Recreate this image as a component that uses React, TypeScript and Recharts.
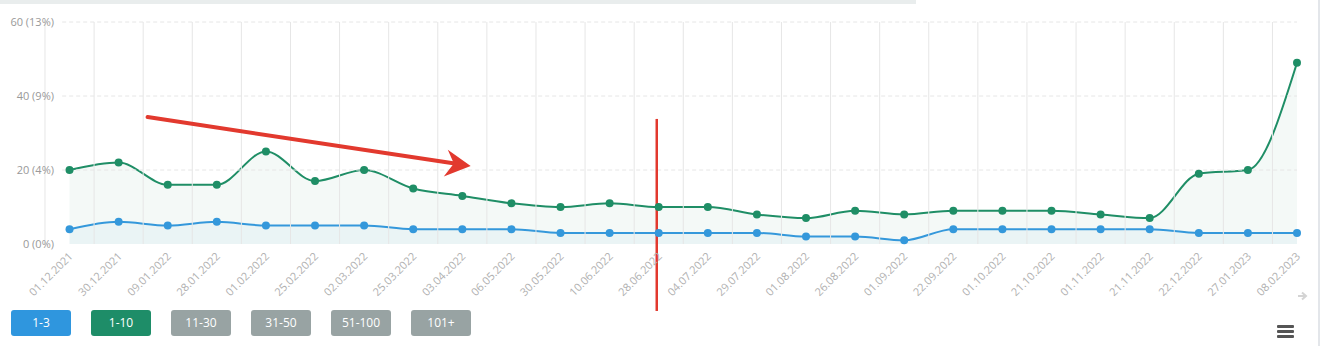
import React from "react";
import { Area, ComposedChart, ReferenceLine, XAxis, YAxis } from "recharts";

const dates = [
  "01.12.2021", "30.12.2021", "09.01.2022", "28.01.2022", "01.02.2022", "25.02.2022",
  "02.03.2022", "25.03.2022", "03.04.2022", "06.05.2022", "30.05.2022", "10.06.2022",
  "28.06.2022", "04.07.2022", "29.07.2022", "01.08.2022", "26.08.2022", "01.09.2022",
  "22.09.2022", "01.10.2022", "21.10.2022", "01.11.2022", "21.11.2022", "22.12.2022",
  "27.01.2023", "08.02.2023",
];
const top3 = [4, 6, 5, 6, 5, 5, 5, 4, 4, 4, 3, 3, 3, 3, 3, 2, 2, 1, 4, 4, 4, 4, 4, 3, 3, 3];
const top10 = [20, 22, 16, 16, 25, 17, 20, 15, 13, 11, 10, 11, 10, 10, 8, 7, 9, 8, 9, 9, 9, 8, 7, 19, 20, 49];
const yTicks = [0, 20, 40, 60];
const yTickLabels = ["0 (0%)", "20 (4%)", "40 (9%)", "60 (13%)"];
const legendItems = ["1-3", "1-10", "11-30", "31-50", "51-100", "101+"];
const legendColors = ["#2f96de", "#1e8d68", "#98a3a3", "#98a3a3", "#98a3a3", "#98a3a3"];

// annotation drawn on top of the screenshot (in data units)
const arrowFrom = { x: 1.59, y: 34.3 };
const arrowTo = { x: 8.17, y: 21.1 };
const markerX = 11.96;
const markerRange = [33.8, -18.1];

const BLUE = "#3498db";
const GREEN = "#1f8e66";
const RED = "#e2392e";

const data = dates.map((d, i) => ({ i, date: d, top3: top3[i], top10: top10[i] }));

const XTick = ({ x, y, payload }: any) => (
  <g transform={`translate(${x + 4},${y + 5})`}>
    <text textAnchor="end" transform="rotate(-45)" fontSize={11} fill="#b0b0b0">
      {dates[payload.value]}
    </text>
  </g>
);

const YTick = ({ x, y, payload }: any) => (
  <text x={x + 10} y={y} dy={4} textAnchor="end" fontSize={11} fill="#999">
    {yTickLabels[yTicks.indexOf(payload.value)]}
  </text>
);

const ArrowShape = (p: any) => {
  const { x1, y1, x2, y2 } = p;
  const len = Math.hypot(x2 - x1, y2 - y1);
  const ux = (x2 - x1) / len;
  const uy = (y2 - y1) / len;
  const nx = -uy;
  const ny = ux;
  const pt = (a: number, b: number) => `${x2 + ux * a + nx * b},${y2 + uy * a + ny * b}`;
  return (
    <g>
      <line x1={x1} y1={y1} x2={x2 - ux * 16} y2={y2 - uy * 16} stroke={RED} strokeWidth={4} strokeLinecap="round" />
      <polygon points={[pt(0, 0), pt(-25, -12.5), pt(-17, 0), pt(-25, 14.5)].join(" ")} fill={RED} />
    </g>
  );
};

export default function App() {
  return (
    <div
      style={{
        position: "absolute",
        left: 0,
        top: 0,
        width: 1323,
        height: 346,
        background: "#fff",
        fontFamily: "'Open Sans', sans-serif",
        overflow: "hidden",
      }}
    >
      <div style={{ position: "absolute", left: 0, top: 0, width: 916, height: 4, background: "#e9eded" }} />
      <div style={{ position: "absolute", left: 1318, top: 0, width: 2, height: 346, background: "#e3e6ea" }} />
      <ComposedChart width={1323} height={346} data={data} margin={{ top: 22, right: 26, left: 0, bottom: 40 }}>
        <XAxis
          dataKey="i"
          type="number"
          domain={[-0.52, 25]}
          ticks={dates.map((_, i) => i)}
          interval={0}
          axisLine={false}
          tickLine={false}
          height={62}
          tick={<XTick />}
        />
        <YAxis
          type="number"
          domain={[0, 60]}
          ticks={yTicks}
          width={44}
          axisLine={false}
          tickLine={false}
          tickSize={0}
          tickMargin={0}
          tick={<YTick />}
        />
        {dates.map((_, k) => (
          <ReferenceLine key={`v${k}`} x={k - 0.5} stroke="#e6e6e6" strokeWidth={1} />
        ))}
        {yTicks.slice(1).map((v) => (
          <ReferenceLine
            key={`h${v}`}
            segment={[{ x: -0.15, y: v }, { x: 25, y: v }]}
            stroke="#e6e6e6"
            strokeDasharray="4 3"
          />
        ))}
        <Area
          type="monotone"
          dataKey="top10"
          stroke={GREEN}
          strokeWidth={2}
          fill={GREEN}
          fillOpacity={0.05}
          dot={{ r: 4, fill: GREEN, fillOpacity: 1, stroke: "none", strokeWidth: 0 }}
          activeDot={false}
          isAnimationActive={false}
        />
        <Area
          type="monotone"
          dataKey="top3"
          stroke={BLUE}
          strokeWidth={2}
          fill={BLUE}
          fillOpacity={0.05}
          dot={{ r: 4, fill: BLUE, fillOpacity: 1, stroke: "none", strokeWidth: 0 }}
          activeDot={false}
          isAnimationActive={false}
        />
        <ReferenceLine
          segment={[{ x: markerX, y: markerRange[0] }, { x: markerX, y: markerRange[1] }]}
          stroke={RED}
          strokeWidth={2.5}
          ifOverflow="visible"
        />
        <ReferenceLine segment={[arrowFrom, arrowTo]} ifOverflow="visible" shape={ArrowShape} />
      </ComposedChart>
      {legendItems.map((label, k) => (
        <div
          key={label}
          style={{
            position: "absolute",
            left: 11 + k * 80,
            top: 310,
            width: 60,
            height: 26,
            borderRadius: 3,
            background: legendColors[k],
            color: "#fff",
            fontSize: 12,
            lineHeight: "26px",
            textAlign: "center",
          }}
        >
          {label}
        </div>
      ))}
      <svg style={{ position: "absolute", left: 1297, top: 291 }} width={12} height={10}>
        <path d="M1 5 H8 M5 1.5 L9 5 L5 8.5" stroke="#d4d4d4" strokeWidth={2} fill="none" />
      </svg>
      <div style={{ position: "absolute", left: 1277, top: 325, width: 17 }}>
        {[0, 1, 2].map((k) => (
          <div key={k} style={{ height: 2.5, background: "#555", borderRadius: 1, marginBottom: 2.5 }} />
        ))}
      </div>
    </div>
  );
}
